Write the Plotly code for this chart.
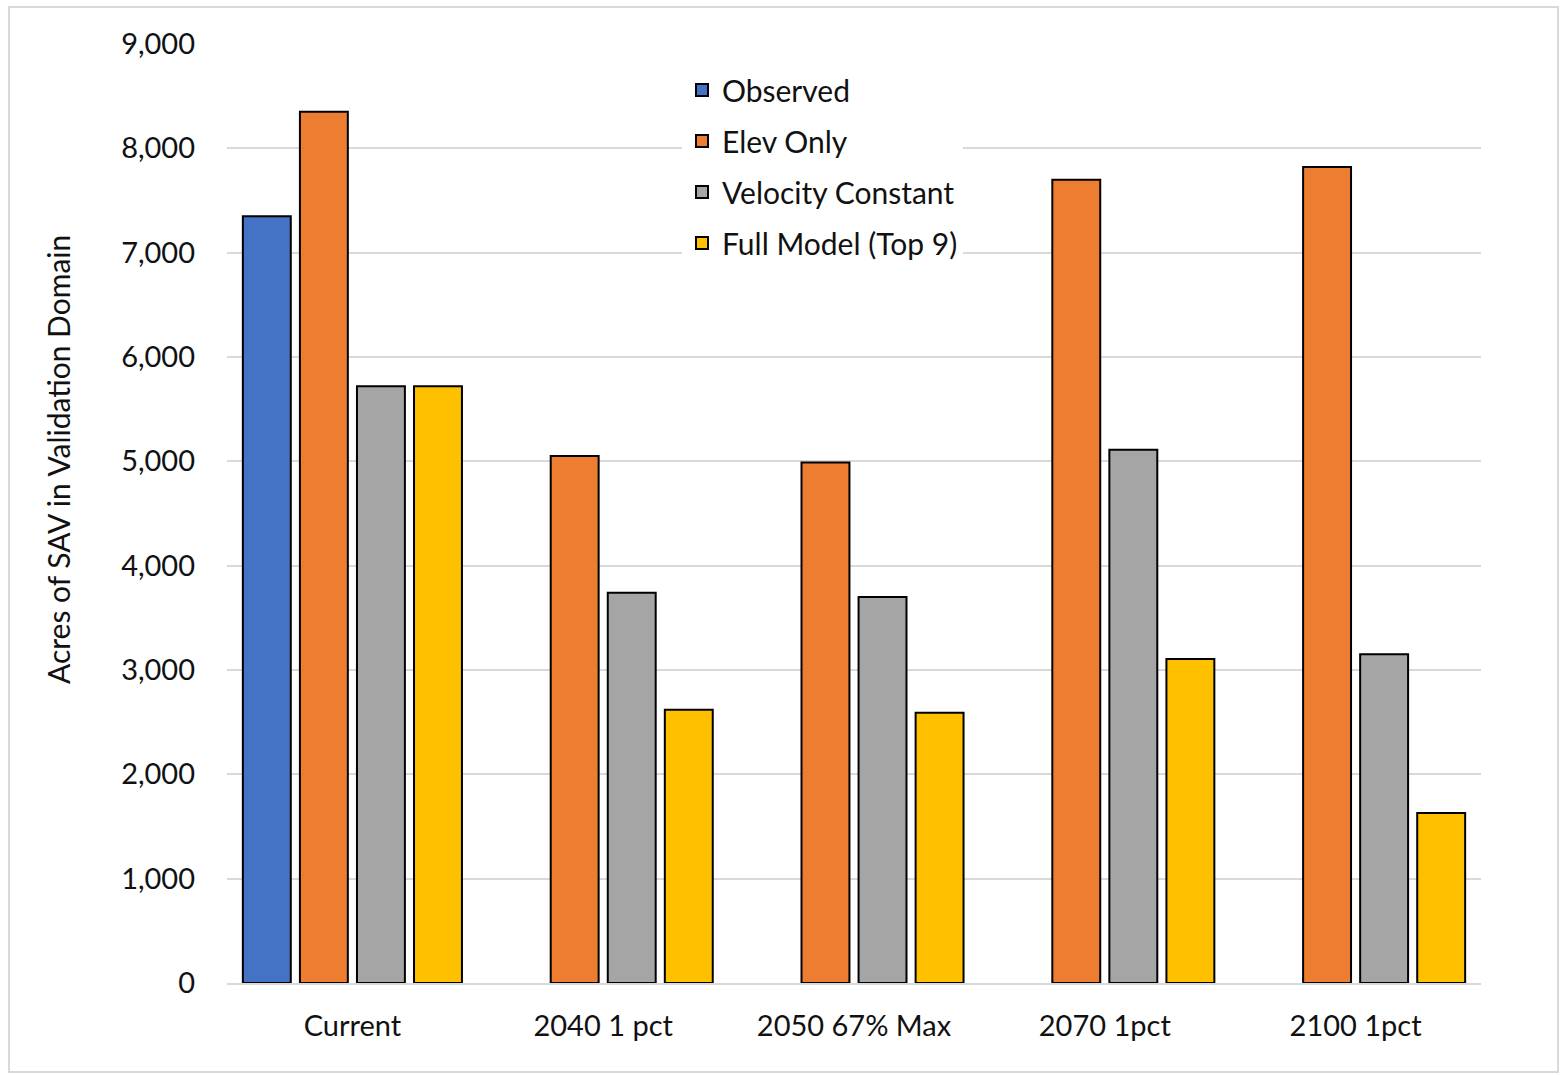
import plotly.graph_objects as go

categories = ["Current", "2040 1 pct", "2050 67% Max", "2070 1pct", "2100 1pct"]
series_names = ["Observed", "Elev Only", "Velocity Constant", "Full Model (Top 9)"]
observed = [7350, None, None, None, None]
elev_only = [8350, 5050, 4990, 7700, 7820]
velocity_constant = [5720, 3740, 3700, 5110, 3150]
full_model = [5720, 2620, 2590, 3105, 1630]
y_ticks = [0, 1000, 2000, 3000, 4000, 5000, 6000, 7000, 8000, 9000]
y_title = "Acres of SAV in Validation Domain"

colors = ["#4472C4", "#ED7D31", "#A5A5A5", "#FFC000"]
values = [observed, elev_only, velocity_constant, full_model]

FONT = "Lato, 'Open Sans', sans-serif"

fig = go.Figure()
for name, vals, col in zip(series_names, values, colors):
    fig.add_trace(go.Bar(
        x=categories, y=vals, name=name, legendgroup=name,
        marker=dict(color=col, line=dict(color="#000000", width=2)),
    ))

W, H = 1560, 1075
L, R, T, B = 227, 79, 44, 92
pw, ph = W - L - R, H - T - B

def px_x(p):
    return (p - L) / pw

def px_y(p):
    return (H - B - p) / ph

fig.update_layout(
    width=W, height=H,
    margin=dict(l=L, r=R, t=T, b=B, autoexpand=False),
    paper_bgcolor="white", plot_bgcolor="white",
    barmode="group", bargap=0.09, bargroupgap=0.16,
    font=dict(family=FONT, size=29, color="#111111"),
    showlegend=True,
    legend=dict(
        x=px_x(682), y=px_y(64), xanchor="left", yanchor="top",
        bgcolor="white", borderwidth=0,
        font=dict(family=FONT, size=30, color="#111111"),
        tracegroupgap=9, itemwidth=30,
    ),
    xaxis=dict(
        range=[-0.5, 4.5], showgrid=False, showline=True,
        linecolor="#D9D9D9", linewidth=2, ticks="",
        ticklabelstandoff=16,
        tickfont=dict(family=FONT, size=29, color="#111111"),
    ),
    yaxis=dict(
        range=[0, 9000], tickvals=y_ticks, tickformat=",d",
        showgrid=True, gridcolor="#D9D9D9", gridwidth=2,
        zeroline=False, showline=False, ticks="",
        ticklabelstandoff=31,
        tickfont=dict(family=FONT, size=29, color="#111111"),
    ),
    annotations=[dict(
        text=y_title, xref="paper", yref="paper",
        x=px_x(58), y=px_y(460), xanchor="center", yanchor="middle",
        textangle=-90, showarrow=False,
        font=dict(family=FONT, size=30, color="#111111"),
    )],
    shapes=[dict(
        type="rect", xref="paper", yref="paper",
        x0=px_x(9), x1=px_x(1558), y0=px_y(1072), y1=px_y(7),
        line=dict(color="#D9D9D9", width=2), fillcolor="rgba(0,0,0,0)",
        layer="below",
    )],
)

fig.write_html("out.html")
